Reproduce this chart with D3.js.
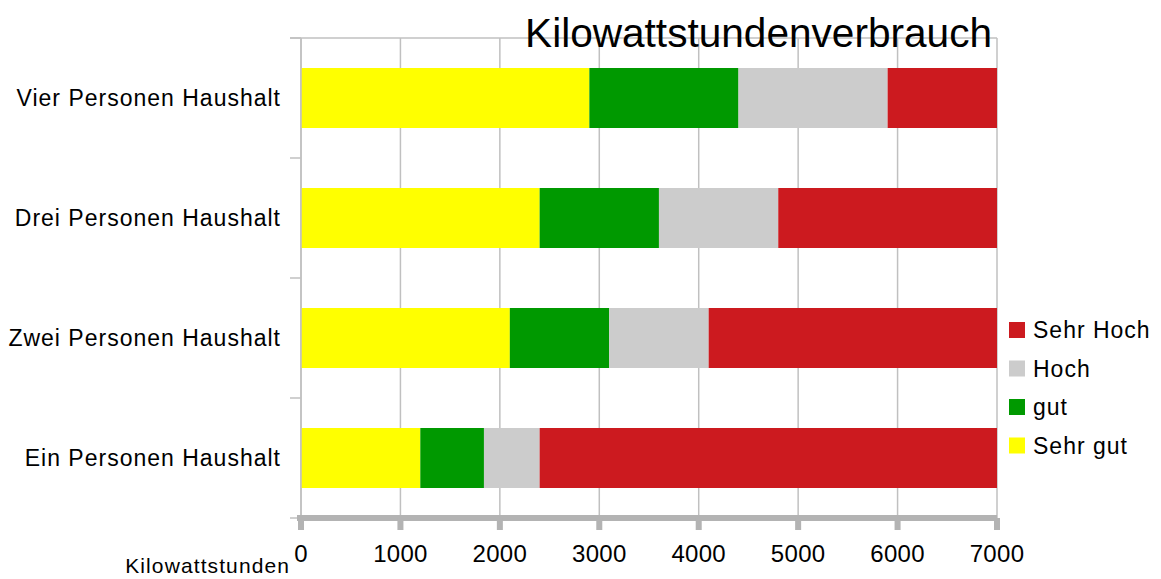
<!DOCTYPE html>
<html>
<head>
<meta charset="utf-8">
<script src="https://cdn.jsdelivr.net/npm/d3@7"></script>
<style>
  body { margin: 0; background: #fff; }
  text { font-family: "Liberation Sans", Arial, sans-serif; fill: #000; }
</style>
</head>
<body>
<svg id="chart" width="1161" height="579"></svg>
<script>
// Chart data
const categories = ['Vier Personen Haushalt', 'Drei Personen Haushalt', 'Zwei Personen Haushalt', 'Ein Personen Haushalt'];
const seriesNames = ['Sehr gut', 'gut', 'Hoch', 'Sehr Hoch'];
const seriesColors = ['#ffff00', '#009900', '#cccccc', '#cc1a1f'];
const sehrGut = [2900, 2400, 2100, 1200];
const gut = [1500, 1200, 1000, 640];
const hoch = [1500, 1200, 1000, 560];
const sehrHoch = [1100, 2200, 2900, 4600];
const xTicks = [0, 1000, 2000, 3000, 4000, 5000, 6000, 7000];

const rows = categories.map((c, i) => ({
  category: c,
  'Sehr gut': sehrGut[i],
  'gut': gut[i],
  'Hoch': hoch[i],
  'Sehr Hoch': sehrHoch[i]
}));

const svg = d3.select('#chart');
const margin = { top: 38, left: 301, right: 164, bottom: 61 };
const width = 1161 - margin.left - margin.right;
const height = 579 - margin.top - margin.bottom;

const g = svg.append('g').attr('transform', `translate(${margin.left},${margin.top})`);

const x = d3.scaleLinear().domain([0, 7000]).range([0, width]);
const y = d3.scaleBand().domain(categories).range([0, height]).paddingInner(0.5).paddingOuter(0.25);

// Vertical grid lines
g.selectAll('.grid')
  .data(xTicks)
  .enter()
  .append('line')
  .attr('x1', d => x(d)).attr('x2', d => x(d))
  .attr('y1', 0).attr('y2', height)
  .attr('stroke', '#c0c0c0')
  .attr('stroke-width', 1.5);

// top border line
g.append('line')
  .attr('x1', -11).attr('x2', width)
  .attr('y1', 0).attr('y2', 0)
  .attr('stroke', '#c0c0c0').attr('stroke-width', 1.5);

// Stacked bars
const stack = d3.stack().keys(seriesNames);
const layers = stack(rows);

g.selectAll('.layer')
  .data(layers)
  .enter()
  .append('g')
  .attr('fill', (d, i) => seriesColors[i])
  .selectAll('rect')
  .data(d => d)
  .enter()
  .append('rect')
  .attr('x', d => x(d[0]))
  .attr('y', d => y(d.data.category))
  .attr('width', d => x(d[1]) - x(d[0]))
  .attr('height', y.bandwidth());

// Left axis with category ticks at band boundaries
g.append('line')
  .attr('x1', 0).attr('x2', 0)
  .attr('y1', 0).attr('y2', height)
  .attr('stroke', '#c0c0c0').attr('stroke-width', 1.5);

const step = y.step();
const boundaries = d3.range(categories.length + 1).map(i => i * step);
g.selectAll('.ytick')
  .data(boundaries)
  .enter()
  .append('line')
  .attr('x1', -11).attr('x2', 0)
  .attr('y1', d => d).attr('y2', d => d)
  .attr('stroke', '#c0c0c0').attr('stroke-width', 1.5);

g.selectAll('.ylabel')
  .data(categories)
  .enter()
  .append('text')
  .attr('x', -20)
  .attr('y', d => y(d) + y.bandwidth() / 2)
  .attr('dy', '0.35em')
  .attr('text-anchor', 'end')
  .style('font-size', '23px')
  .style('letter-spacing', '1px')
  .text(d => d);

// Bottom axis: thick grey bar with nubs
g.append('rect')
  .attr('x', -4).attr('y', height - 3)
  .attr('width', width + 4).attr('height', 6)
  .attr('fill', '#b3b3b3');

g.selectAll('.xnub')
  .data(xTicks)
  .enter()
  .append('rect')
  .attr('x', d => x(d) - 3)
  .attr('y', height)
  .attr('width', 6)
  .attr('height', 12)
  .attr('fill', '#b3b3b3');

g.selectAll('.xlabel')
  .data(xTicks)
  .enter()
  .append('text')
  .attr('x', d => x(d))
  .attr('y', height + 44)
  .attr('text-anchor', 'middle')
  .style('font-size', '24px')
  .style('letter-spacing', '0.3px')
  .text(d => d);

// Axis title
svg.append('text')
  .attr('x', 290)
  .attr('y', 573)
  .attr('text-anchor', 'end')
  .style('font-size', '21px')
  .style('letter-spacing', '1.1px')
  .text('Kilowattstunden');

// Chart title
svg.append('text')
  .attr('x', 992)
  .attr('y', 47)
  .attr('text-anchor', 'end')
  .style('font-size', '40.6px')
  .text('Kilowattstundenverbrauch');

// Legend (reverse order)
const legendItems = seriesNames.map((s, i) => ({ name: s, color: seriesColors[i] })).reverse();
const legend = svg.append('g').attr('transform', 'translate(1009,322)');
const item = legend.selectAll('.item')
  .data(legendItems)
  .enter()
  .append('g')
  .attr('transform', (d, i) => `translate(0, ${i * 38.5})`);

item.append('rect')
  .attr('width', 16).attr('height', 16)
  .attr('fill', d => d.color);

item.append('text')
  .attr('x', 24)
  .attr('y', 8)
  .attr('dy', '0.35em')
  .style('font-size', '23px')
  .style('letter-spacing', '1px')
  .text(d => d.name);
</script>
</body>
</html>
